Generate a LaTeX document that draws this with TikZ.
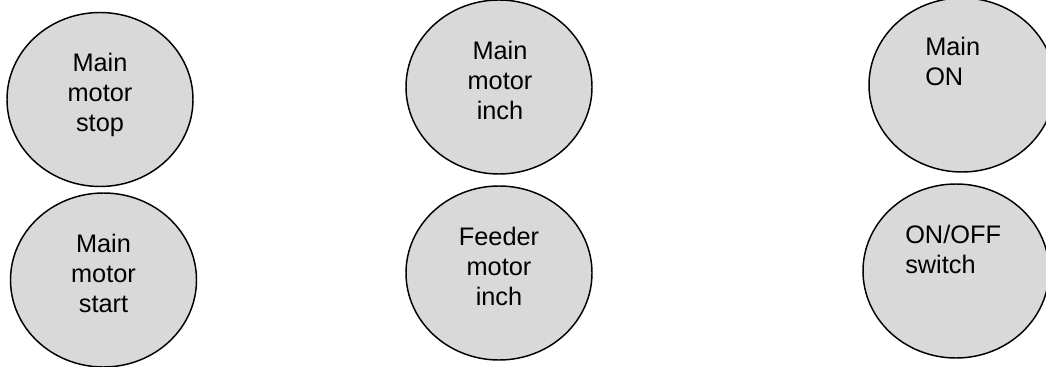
\documentclass[tikz,border=0pt]{standalone}
\usepackage{fontspec}
\setmainfont{Liberation Sans}
\usetikzlibrary{shapes.geometric}
\definecolor{keygray}{HTML}{D9D9D9}
\tikzset{
  key/.style={ellipse, draw=black, line width=1.1pt, fill=keygray,
    inner sep=0pt, minimum width=139.5pt, minimum height=130.5pt},
  keytext/.style={inner sep=0pt, anchor=base, align=center,
    font=\fontsize{19}{22.5}\selectfont},
  keytextl/.style={keytext, anchor=base west, align=left}
}

\begin{document}
\begin{tikzpicture}[x=0.75pt, y=-0.75pt]
	%%%%% START %%%%%
	\useasboundingbox (0, 0) rectangle (1046, 367);
	
	% left column
	\node[key] (stop) at (100, 99.5) {};
	\node[keytext] (stoptext) at (100, 132) {Main\\motor\\stop};
	
	\node[key] (start) at (103.5, 280) {};
	\node[keytext] (starttext) at (103.5, 312) {Main\\motor\\start};
	
	% middle column
	\node[key] (maininch) at (499, 87) {};
	\node[keytext] (maininchtext) at (500, 120) {Main\\motor\\inch};
	
	\node[key] (feedinch) at (499, 273) {};
	\node[keytext] (feedinchtext) at (499, 305) {Feeder\\motor\\inch};
	
	% right column
	\node[key] (mainon) at (962, 85) {};
	\node[keytextl] (mainontext) at (925, 86) {Main\\ON};
	
	\node[key] (onoff) at (956, 271) {};
	\node[keytextl] (onofftext) at (905, 273) {ON/OFF\\switch};
	
	%%%%% END %%%%%
\end{tikzpicture}
\end{document}
